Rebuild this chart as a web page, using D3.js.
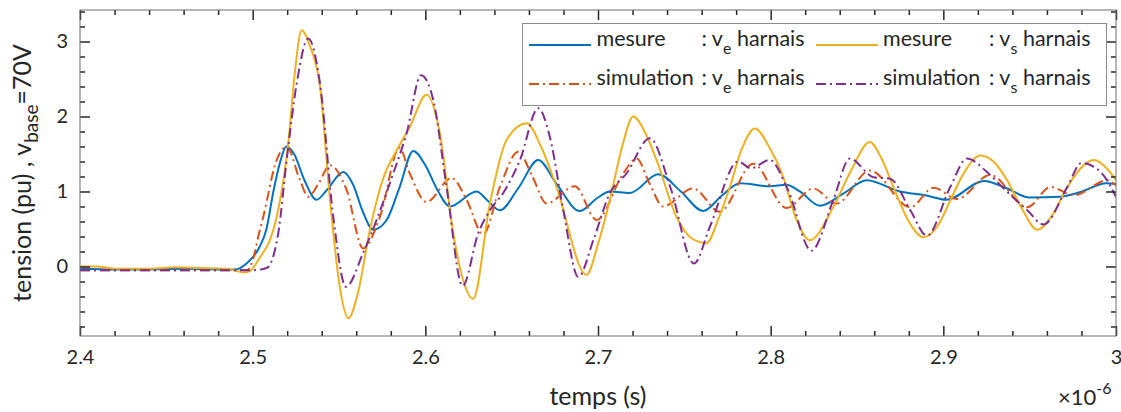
<!DOCTYPE html>
<html><head><meta charset="utf-8">
<script src="https://cdn.jsdelivr.net/npm/d3@7"></script>
<style>
body{margin:0;background:#fff}
svg{display:block}
text{font-family:Lato,"Open Sans",sans-serif;fill:#262626}
</style>
</head><body>
<svg id="chart" width="1121" height="412"></svg>
<script>
// ---------------- data ----------------
const xTicks = [2.4, 2.5, 2.6, 2.7, 2.8, 2.9, 3.0];
const xTickLabels = ["2.4", "2.5", "2.6", "2.7", "2.8", "2.9", "3"];
const yTicks = [0, 1, 2, 3];
const yTickLabels = ["0", "1", "2", "3"];

// mesure : v_e harnais (blue)
const tBlue = [2.400,2.420,2.440,2.460,2.480,2.490,2.4965,2.5003,2.504,2.508,2.512,2.516,2.5195,2.524,2.530,2.537,2.543,2.5525,2.558,2.564,2.5698,2.5776,2.585,2.593,2.600,2.607,2.6142,2.6297,2.636,2.6432,2.654,2.6654,2.676,2.6895,2.700,2.7069,2.7185,2.7349,2.748,2.7609,2.772,2.7822,2.7995,2.809,2.8169,2.8285,2.842,2.8555,2.8748,2.8895,2.9018,2.9236,2.936,2.950,2.9675,2.979,2.9945,3.000];
const vBlue = [-0.03,-0.04,-0.04,-0.03,-0.04,-0.04,0.04,0.13,0.26,0.50,1.00,1.40,1.60,1.50,1.15,0.89,1.02,1.26,1.10,0.72,0.49,0.62,1.05,1.54,1.35,1.02,0.80,1.00,0.88,0.75,1.05,1.42,1.10,0.74,0.92,1.00,0.98,1.23,1.00,0.74,0.95,1.11,1.07,1.09,1.00,0.81,0.97,1.15,1.00,0.95,0.89,1.14,1.05,0.92,0.93,0.99,1.11,1.10];

// mesure : v_s harnais (yellow)
const tYellow = [2.400,2.410,2.420,2.440,2.455,2.470,2.485,2.4955,2.4985,2.505,2.510,2.5139,2.5206,2.5245,2.5283,2.533,2.539,2.5448,2.550,2.5554,2.561,2.5679,2.576,2.5834,2.591,2.6007,2.6084,2.6162,2.6215,2.6277,2.6374,2.6471,2.6587,2.667,2.676,2.6934,2.700,2.7069,2.714,2.7204,2.727,2.7339,2.7455,2.754,2.7628,2.770,2.7764,2.783,2.7909,2.799,2.8072,2.815,2.8227,2.8362,2.847,2.8574,2.864,2.8711,2.880,2.8885,2.897,2.904,2.912,2.9214,2.929,2.937,2.946,2.9544,2.963,2.9718,2.9873,2.995,3.000];
const vYellow = [0.00,0.00,-0.03,-0.03,-0.01,-0.02,-0.03,-0.08,-0.06,0.15,0.35,0.66,1.64,2.60,3.15,2.95,2.40,0.89,-0.20,-0.69,-0.35,0.49,1.20,1.55,1.86,2.29,1.78,0.44,-0.15,-0.43,0.84,1.69,1.91,1.60,1.06,-0.11,0.30,0.89,1.60,2.00,1.80,1.42,0.66,0.38,0.31,0.65,1.06,1.55,1.84,1.60,1.20,0.62,0.35,0.79,1.30,1.66,1.45,1.06,0.60,0.39,0.55,0.88,1.25,1.48,1.40,1.15,0.75,0.49,0.68,1.06,1.42,1.30,1.15];

// simulation : v_e harnais (orange)
const tOrange = [2.400,2.450,2.4965,2.4994,2.5042,2.5061,2.5139,2.5197,2.5274,2.5322,2.538,2.5448,2.5544,2.564,2.5737,2.585,2.591,2.6007,2.6152,2.6239,2.6335,2.6432,2.6538,2.662,2.6702,2.6866,2.6992,2.7146,2.7223,2.730,2.7377,2.7551,2.7706,2.7899,2.8092,2.8246,2.8382,2.8575,2.8809,2.8944,2.9079,2.9272,2.9486,2.9621,2.9757,2.995,3.000];
const vOrange = [-0.05,-0.05,-0.05,0.04,0.49,0.66,1.42,1.60,1.15,0.93,1.10,1.35,1.02,0.24,0.66,1.58,1.24,0.86,1.18,0.89,0.43,1.06,1.53,1.20,0.84,1.07,0.62,1.24,1.44,1.10,0.80,1.04,0.73,1.37,0.78,1.04,0.84,1.28,0.79,1.05,0.90,1.22,0.79,1.06,0.95,1.15,1.08];

// simulation : v_s harnais (purple)
const tPurple = [2.400,2.450,2.500,2.5081,2.5148,2.5197,2.5255,2.5322,2.539,2.5467,2.554,2.564,2.5718,2.5814,2.5892,2.5975,2.6046,2.6123,2.6216,2.6306,2.6374,2.6451,2.6548,2.6654,2.6721,2.6799,2.6886,2.6973,2.7069,2.7165,2.7301,2.742,2.7556,2.7648,2.7812,2.7885,2.7995,2.810,2.8236,2.8362,2.8459,2.8595,2.8692,2.8809,2.8905,2.904,2.9137,2.9253,2.935,2.9486,2.958,2.9718,2.980,2.9911,3.000];
const vPurple = [-0.05,-0.05,-0.05,-0.02,0.44,1.42,2.44,3.04,2.44,0.66,-0.27,0.18,0.62,1.24,1.78,2.55,2.22,1.06,-0.26,0.44,0.75,0.98,1.42,2.11,1.73,0.75,-0.14,0.35,0.98,1.24,1.71,1.05,0.04,0.53,1.40,1.31,1.42,1.02,0.21,0.88,1.44,1.19,1.17,0.75,0.41,1.06,1.44,1.26,1.04,0.75,0.56,1.06,1.38,1.26,0.93];

const seriesNames = ["mesure", "mesure", "simulation", "simulation"];
const seriesSubs = ["e", "s", "e", "s"];
const seriesTail = "harnais";

// ---------------- layout / style ----------------
const L = 80, R = 1116, T = 10, B = 336;
const colors = ["#0072BD", "#EDB120", "#D95319", "#7E2F8E"];
const dashes = [null, null, "10,4,2,4", "10,4,2,4"];

const svg = d3.select("#chart");
const x = d3.scaleLinear().domain([2.4, 3.0]).range([L, R]);
const y = d3.scaleLinear().domain([-0.927, 3.42]).range([B, T]);

svg.append("defs").append("clipPath").attr("id", "clip")
  .append("rect").attr("x", L).attr("y", T).attr("width", R - L).attr("height", B - T);

// lines
const series = [
  {t: tBlue, v: vBlue},
  {t: tYellow, v: vYellow},
  {t: tOrange, v: vOrange},
  {t: tPurple, v: vPurple}
];
const line = d3.line().x(d => x(d[0])).y(d => y(d[1])).curve(d3.curveMonotoneX);
const drawOrder = [0, 2, 1, 3];
const gLines = svg.append("g").attr("clip-path", "url(#clip)");
drawOrder.forEach(i => {
  const s = series[i];
  gLines.append("path")
    .datum(s.t.map((t, k) => [t, s.v[k]]))
    .attr("d", line)
    .attr("fill", "none")
    .attr("stroke", colors[i])
    .attr("stroke-width", 2)
    .attr("stroke-linejoin", "round")
    .attr("stroke-dasharray", dashes[i]);
});

// axes
const xMinor = d3.range(2.4, 3.0001, 0.02).map(v => +v.toFixed(2)).filter(v => !xTicks.some(t => Math.abs(t - v) < 1e-6));
const yMinor = d3.range(-0.8, 3.4001, 0.2).map(v => +v.toFixed(1)).filter(v => !yTicks.some(t => Math.abs(t - v) < 1e-6));

function styleAxis(g) {
  g.select(".domain").remove();
  g.selectAll("line").attr("stroke", "#262626").attr("stroke-width", 1.5);
}
// bottom
svg.append("g").attr("transform", `translate(0,${B})`)
  .call(d3.axisBottom(x).tickValues(xTicks).tickFormat((d, i) => xTickLabels[i]).tickSize(-10).tickSizeOuter(0).tickPadding(28))
  .call(styleAxis)
  .selectAll("text").attr("font-size", 20).attr("dy", "0");
svg.append("g").attr("transform", `translate(0,${B})`)
  .call(d3.axisBottom(x).tickValues(xMinor).tickFormat("").tickSize(-5).tickSizeOuter(0)).call(styleAxis);
// top
svg.append("g").attr("transform", `translate(0,${T})`)
  .call(d3.axisTop(x).tickValues(xTicks).tickFormat("").tickSize(-10).tickSizeOuter(0)).call(styleAxis);
svg.append("g").attr("transform", `translate(0,${T})`)
  .call(d3.axisTop(x).tickValues(xMinor).tickFormat("").tickSize(-5).tickSizeOuter(0)).call(styleAxis);
// left
svg.append("g").attr("transform", `translate(${L},0)`)
  .call(d3.axisLeft(y).tickValues(yTicks).tickFormat((d, i) => yTickLabels[i]).tickSize(-10).tickSizeOuter(0).tickPadding(12))
  .call(styleAxis)
  .selectAll("text").attr("font-size", 20);
svg.append("g").attr("transform", `translate(${L},0)`)
  .call(d3.axisLeft(y).tickValues(yMinor).tickFormat("").tickSize(-5).tickSizeOuter(0)).call(styleAxis);
// right
svg.append("g").attr("transform", `translate(${R},0)`)
  .call(d3.axisRight(y).tickValues(yTicks).tickFormat("").tickSize(-10).tickSizeOuter(0)).call(styleAxis);
svg.append("g").attr("transform", `translate(${R},0)`)
  .call(d3.axisRight(y).tickValues(yMinor).tickFormat("").tickSize(-5).tickSizeOuter(0)).call(styleAxis);

// box
svg.append("rect").attr("x", L).attr("y", T).attr("width", R - L).attr("height", B - T)
  .attr("fill", "none").attr("stroke", "#6e6e6e").attr("stroke-width", 1);

// axis labels
svg.append("text").attr("x", (L + R) / 2).attr("y", 405).attr("text-anchor", "middle")
  .attr("font-size", 25).text("temps (s)");

const yl = svg.append("text").attr("transform", `translate(31,${(T + B) / 2}) rotate(-90)`)
  .attr("text-anchor", "middle").attr("font-size", 25);
yl.append("tspan").text("tension (pu) , v");
yl.append("tspan").attr("font-size", 19).attr("dy", 7).text("base");
yl.append("tspan").attr("dy", -7).text("=70V");

const ex = svg.append("text").attr("x", 1058).attr("y", 405).attr("font-size", 22);
ex.append("tspan").text("\u00D710");
ex.append("tspan").attr("font-size", 16).attr("dy", -11).text("-6");

// legend
const lg = svg.append("g");
lg.append("rect").attr("x", 522.5).attr("y", 23.5).attr("width", 584).attr("height", 82)
  .attr("fill", "#fff").attr("stroke", "#8c8c8c").attr("stroke-width", 1);
const colX = [529, 816];
const nameX = [596.5, 883];
const colonX = [701.5, 989];
const rowY = [45, 84];
const legendOrder = [[0, 1], [2, 3]];
legendOrder.forEach((row, r) => {
  row.forEach((si, c) => {
    lg.append("line").attr("x1", colX[c]).attr("x2", colX[c] + 62)
      .attr("y1", rowY[r]).attr("y2", rowY[r])
      .attr("stroke", colors[si]).attr("stroke-width", 2)
      .attr("stroke-dasharray", dashes[si]);
    lg.append("text").attr("x", nameX[c]).attr("y", rowY[r] + 1).attr("font-size", 21.5).text(seriesNames[si]);
    const tx = lg.append("text").attr("x", colonX[c]).attr("y", rowY[r] + 1).attr("font-size", 21.5)
      .style("white-space", "pre");
    tx.append("tspan").text(": v");
    tx.append("tspan").attr("font-size", 16).attr("dy", 8).text(seriesSubs[si]);
    tx.append("tspan").attr("dy", -8).text(" " + seriesTail);
  });
});
</script>
</body></html>
